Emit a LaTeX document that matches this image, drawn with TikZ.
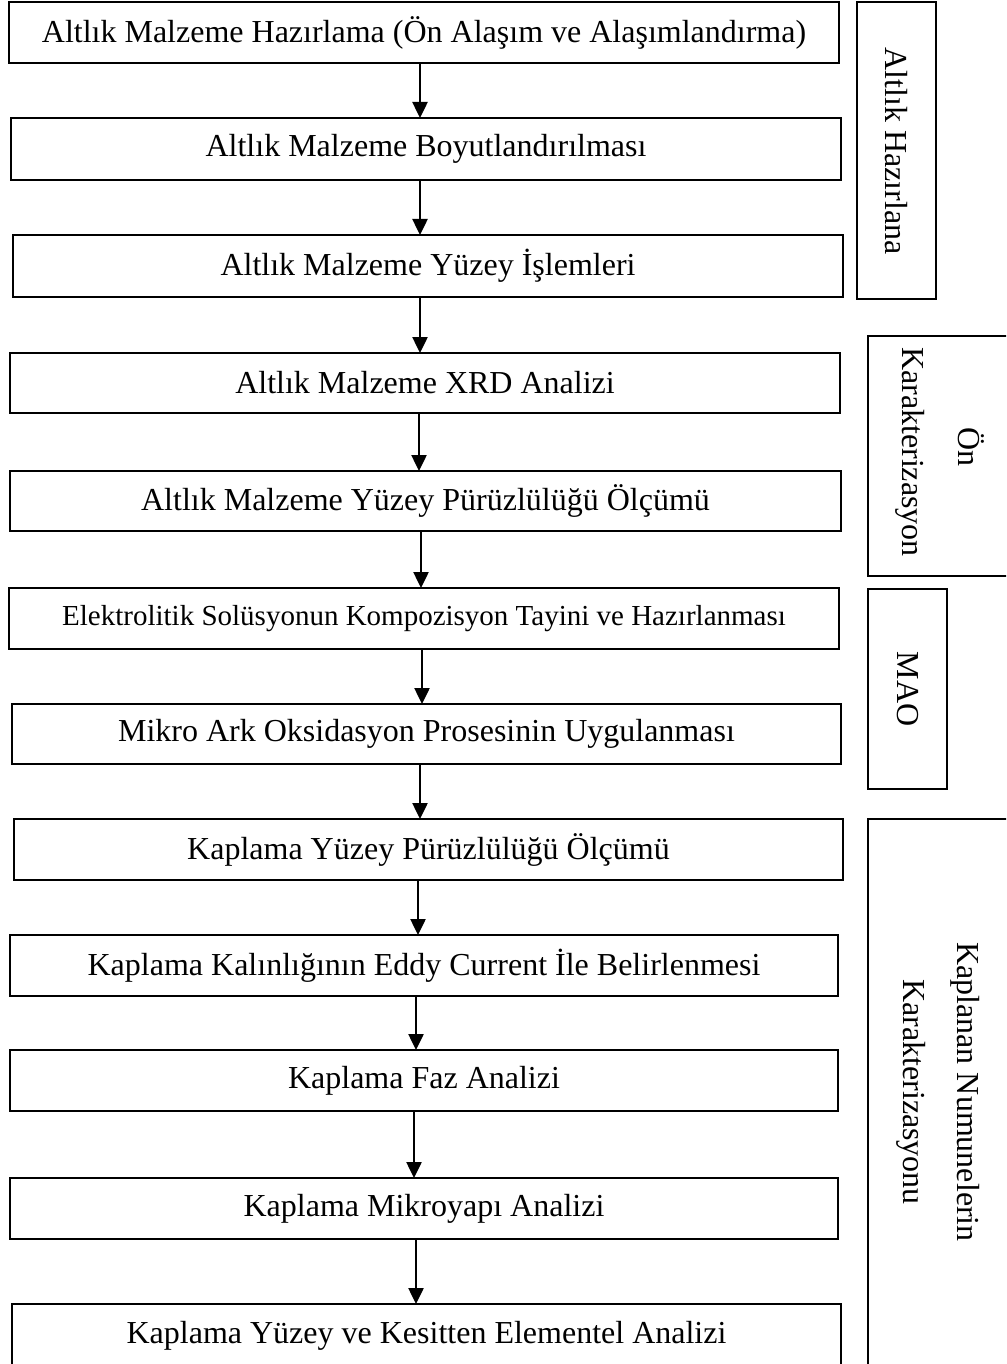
\documentclass[tikz,border=0pt]{standalone}
\usepackage{fontspec}
\setmainfont{Liberation Serif}
\usetikzlibrary{arrows.meta}
\begin{document}
\begin{tikzpicture}[x=1pt,y=-1pt,
  box/.style={draw, line width=1.5pt, inner sep=0pt, outer sep=0pt, font=\fontsize{32}{38}\selectfont},
  frame/.style={draw, line width=1.5pt},
  arr/.style={line width=2.5pt, -{Triangle[length=16pt,width=15pt]}},
  side/.style={rotate=-90, anchor=base, inner sep=0pt, font=\fontsize{32}{38}\selectfont}]
\useasboundingbox (0,0) rectangle (1006,1364);
\clip (0,0) rectangle (1006,1364);
\fill[white] (0,0) rectangle (1006,1364);

% main flow boxes
\node[box, minimum width=830pt, minimum height=61pt] (b1) at (424,32.5) {Altlık Malzeme Hazırlama (Ön Alaşım ve Alaşımlandırma)};
\node[box, minimum width=830pt, minimum height=62pt] (b2) at (426,149) {Altlık Malzeme Boyutlandırılması};
\node[box, minimum width=830pt, minimum height=62pt] (b3) at (428,266) {Altlık Malzeme Yüzey İşlemleri};
\node[box, minimum width=830pt, minimum height=60pt] (b4) at (425,383) {Altlık Malzeme XRD Analizi};
\node[box, minimum width=831pt, minimum height=60pt] (b5) at (425.5,501) {Altlık Malzeme Yüzey Pürüzlülüğü Ölçümü};
\node[box, minimum width=830pt, minimum height=61pt, font=\fontsize{29}{35}\selectfont] (b6) at (424,618.5) {Elektrolitik Solüsyonun Kompozisyon Tayini ve Hazırlanması};
\node[box, minimum width=829pt, minimum height=60pt] (b7) at (426.5,734) {Mikro Ark Oksidasyon Prosesinin Uygulanması};
\node[box, minimum width=829pt, minimum height=61pt] (b8) at (428.5,849.5) {Kaplama Yüzey Pürüzlülüğü Ölçümü};
\node[box, minimum width=828pt, minimum height=61pt] (b9) at (424,965.5) {Kaplama Kalınlığının Eddy Current İle Belirlenmesi};
\node[box, minimum width=828pt, minimum height=61pt] (b10) at (424,1080.5) {Kaplama Faz Analizi};
\node[box, minimum width=828pt, minimum height=61pt] (b11) at (424,1208.5) {Kaplama Mikroyapı Analizi};
\node[box, minimum width=829pt, minimum height=64pt] (b12) at (426.5,1336) {Kaplama Yüzey ve Kesitten Elementel Analizi};

% arrow x positions
\coordinate (ax1) at (420,0);
\coordinate (ax2) at (420,0);
\coordinate (ax3) at (420,0);
\coordinate (ax4) at (419,0);
\coordinate (ax5) at (421,0);
\coordinate (ax6) at (422,0);
\coordinate (ax7) at (420,0);
\coordinate (ax8) at (418,0);
\coordinate (ax9) at (416,0);
\coordinate (ax10) at (414,0);
\coordinate (ax11) at (416,0);

\draw[arr] (b1.south -| ax1) -- (b2.north -| ax1);
\draw[arr] (b2.south -| ax2) -- (b3.north -| ax2);
\draw[arr] (b3.south -| ax3) -- (b4.north -| ax3);
\draw[arr] (b4.south -| ax4) -- (b5.north -| ax4);
\draw[arr] (b5.south -| ax5) -- (b6.north -| ax5);
\draw[arr] (b6.south -| ax6) -- (b7.north -| ax6);
\draw[arr] (b7.south -| ax7) -- (b8.north -| ax7);
\draw[arr] (b8.south -| ax8) -- (b9.north -| ax8);
\draw[arr] (b9.south -| ax9) -- (b10.north -| ax9);
\draw[arr] (b10.south -| ax10) -- (b11.north -| ax10);
\draw[arr] (b11.south -| ax11) -- (b12.north -| ax11);

% side frames
\draw[frame] (857,2) rectangle (936,299);
\draw[frame] (868,336) rectangle (1030,576);
\draw[frame] (868,589) rectangle (947,789);
\draw[frame] (868,819) rectangle (1030,1390);

% side labels
\node[side] (l1) at (885,151) {Altlık Hazırlana};
\node[side] (l2a) at (958,447) {Ön};
\node[side] (l2b) at (902,452) {Karakterizasyon};
\node[side] (l3) at (897,689) {MAO};
\node[side] (l4a) at (957,1092) {Kaplanan Numunelerin};
\node[side] (l4b) at (903,1092) {Karakterizasyonu};
\end{tikzpicture}
\end{document}
